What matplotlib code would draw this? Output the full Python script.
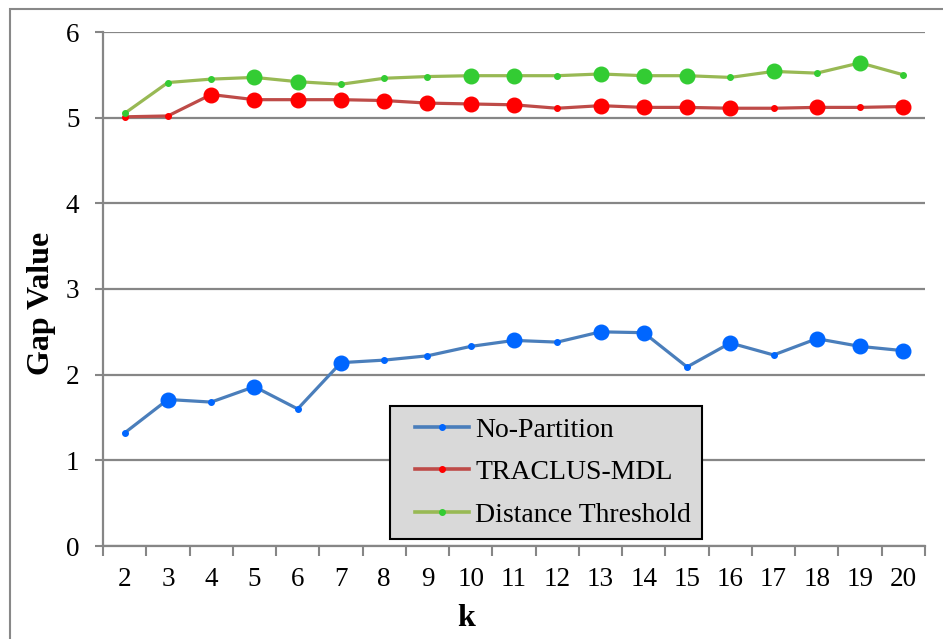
import matplotlib
matplotlib.use("Agg")
import matplotlib.pyplot as plt
from matplotlib.patches import Rectangle
from matplotlib.lines import Line2D
from matplotlib.legend_handler import HandlerLine2D

plt.rcParams['font.family'] = ['Liberation Serif', 'DejaVu Serif']

# k values on the x axis
k_values = list(range(2, 21))

no_partition = [1.32, 1.71, 1.68, 1.86, 1.60, 2.14, 2.17, 2.22, 2.33, 2.40,
                2.38, 2.50, 2.49, 2.09, 2.37, 2.23, 2.42, 2.33, 2.28]
traclus_mdl = [5.01, 5.02, 5.27, 5.21, 5.21, 5.21, 5.20, 5.17, 5.16, 5.15,
               5.11, 5.14, 5.12, 5.12, 5.11, 5.11, 5.12, 5.12, 5.13]
dist_threshold = [5.05, 5.41, 5.45, 5.47, 5.42, 5.39, 5.46, 5.48, 5.49, 5.49,
                  5.49, 5.51, 5.49, 5.49, 5.47, 5.54, 5.52, 5.64, 5.50]

# points that were highlighted (big marker) in the original chart
hl_no_partition = [0, 1, 0, 1, 0, 1, 0, 0, 0, 1, 0, 1, 1, 0, 1, 0, 1, 1, 1]
hl_traclus = [0, 0, 1, 1, 1, 1, 1, 1, 1, 1, 0, 1, 1, 1, 1, 0, 1, 0, 1]
hl_dist = [0, 0, 0, 1, 1, 0, 0, 0, 1, 1, 0, 1, 1, 1, 0, 1, 0, 1, 0]

series = [
    ("No-Partition", no_partition, hl_no_partition, "#4A7EBB", "#0066FF"),
    ("TRACLUS-MDL", traclus_mdl, hl_traclus, "#BE4B48", "#FF0000"),
    ("Distance Threshold", dist_threshold, hl_dist, "#98B954", "#33CC33"),
]

GREY = "#868686"

fig = plt.figure(figsize=(9.43, 6.39), dpi=100)
ax = fig.add_axes([103/943, 1-546/639, (925-103)/943, (546-32)/639])

x = list(range(len(k_values)))
for name, vals, hl, lc, mc in series:
    ax.plot(x, vals, color=lc, lw=2.3, marker='o', ms=4, mfc=mc, mec=mc,
            label=name, zorder=3)
    bx = [xi for xi, h in zip(x, hl) if h]
    by = [v for v, h in zip(vals, hl) if h]
    ax.plot(bx, by, ls='none', marker='o', ms=10.5, mfc=mc, mec=mc, zorder=4)

ax.set_xlim(-0.5, len(k_values) - 0.5)
ax.set_ylim(0, 6)
ax.set_yticks(range(0, 7))
ax.set_xticks(x)
ax.set_xticklabels([str(k) for k in k_values])
ax.set_xticks([i - 0.5 for i in range(len(k_values) + 1)], minor=True)
ax.tick_params(axis='x', which='major', length=0, pad=15, labelsize=19.5)
ax.tick_params(axis='x', which='minor', length=7, width=1.5, color=GREY)
ax.tick_params(axis='y', length=6, width=1.5, color=GREY, pad=11, labelsize=19.5)

ax.grid(axis='y', color=GREY, lw=1.6)
ax.set_axisbelow(True)
for s in ['top', 'right']:
    ax.spines[s].set_visible(False)
for s in ['left', 'bottom']:
    ax.spines[s].set_color(GREY)
    ax.spines[s].set_linewidth(1.6)

ax.set_ylabel("Gap Value", fontsize=23, fontweight='bold', va='center')
ax.yaxis.set_label_coords((42-103)/822, (546-303)/514)
ax.set_xlabel("k", fontsize=23, fontweight='bold', va='center')
ax.xaxis.set_label_coords((466-103)/822, (546-619)/514)

leg = ax.legend(loc='upper left', bbox_to_anchor=((390-103)/822, (546-406)/514),
                fontsize=20, frameon=True, fancybox=False, handlelength=2.45,
                handletextpad=0.22, labelspacing=0.62, borderpad=0.4,
                borderaxespad=0, handler_map={Line2D: HandlerLine2D(xpad=0.5)})
leg.get_frame().set_facecolor("#D9D9D9")
leg.get_frame().set_edgecolor("black")
leg.get_frame().set_linewidth(1.5)
leg.get_frame().set_alpha(1)
for line in leg.get_lines():
    line.set_linewidth(2.6)

# outer chart-area border
fig.add_artist(Rectangle((10/943, -0.1), 1.0, 1.1 - 9/639, transform=fig.transFigure,
                         fill=False, edgecolor="#888888", lw=1.5))

fig.savefig("out.png", dpi=100)
